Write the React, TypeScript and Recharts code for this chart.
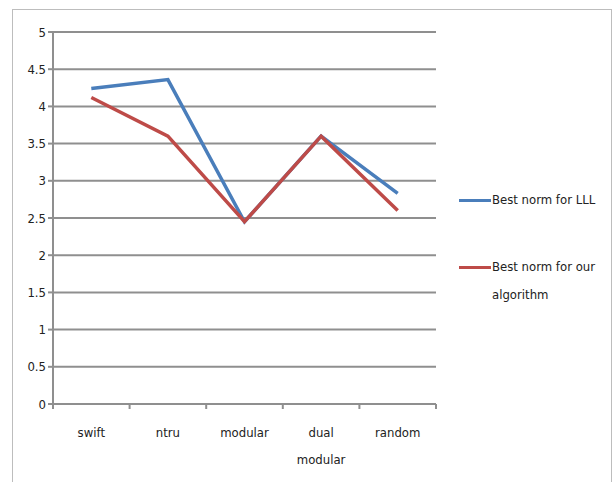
import React from 'react';
import {
  LineChart,
  Line,
  XAxis,
  YAxis,
  CartesianGrid,
} from 'recharts';

// Norm results per lattice type
const categories = ['swift', 'ntru', 'modular', 'dual modular', 'random'];
const lllNorm = [4.24, 4.36, 2.45, 3.6, 2.83];
const ourNorm = [4.12, 3.6, 2.45, 3.6, 2.6];
const yTicks = [0, 0.5, 1, 1.5, 2, 2.5, 3, 3.5, 4, 4.5, 5];

const BLUE = '#4A7EBB';
const RED = '#BE4B48';
const GRID = '#8f8f8f';
const FONT = '"DejaVu Sans Condensed", "Open Sans", sans-serif';

// each category sits in the middle of its slot on a 0..N numeric axis
const data = categories.map((name, i) => ({
  slot: i + 0.5,
  name,
  lll: lllNorm[i],
  ours: ourNorm[i],
}));
const slotCenters = data.map((d) => d.slot);
const slotEdges = [0, ...slotCenters.map((s) => s + 0.5)];

// category label, split onto separate lines at spaces
const CategoryTick = (props: any) => {
  const { x, y, index } = props;
  const words = categories[index].split(' ');
  return (
    <text x={x} y={y} textAnchor="middle" fontSize={13} fill="#222" fontFamily={FONT}>
      {words.map((w, i) => (
        <tspan key={i} x={x} dy={i === 0 ? 24 : 27}>
          {w}
        </tspan>
      ))}
    </text>
  );
};

// tick mark only, no label
const EdgeTick = () => <g />;

const legendItems = [
  { label: 'Best norm for LLL', color: BLUE },
  { label: 'Best norm for our algorithm', color: RED },
];

const NormLegend = () => (
  <div
    style={{
      position: 'absolute',
      left: 446,
      top: 176,
      fontFamily: FONT,
      fontSize: 13,
      color: '#222',
    }}
  >
    {legendItems.map((item, i) => (
      <div
        key={item.label}
        style={{ display: 'flex', alignItems: 'flex-start', marginBottom: i === 0 ? 39 : 0 }}
      >
        <div
          style={{
            width: 32,
            height: 3,
            background: item.color,
            marginTop: 13,
            marginRight: 1,
            flexShrink: 0,
          }}
        />
        <div style={{ width: 112, lineHeight: '28px' }}>{item.label}</div>
      </div>
    ))}
  </div>
);

export default function App() {
  return (
    <div
      style={{
        position: 'absolute',
        left: 12,
        top: 9,
        width: 600,
        height: 474,
        border: '1px solid #bdbdbd',
        boxSizing: 'border-box',
        background: '#fff',
      }}
    >
      <LineChart
        width={598}
        height={464}
        data={data}
        margin={{ top: 22, right: 175, left: 0, bottom: 10 }}
      >
        <CartesianGrid vertical={false} stroke={GRID} strokeWidth={2} />
        <XAxis
          xAxisId="cat"
          type="number"
          dataKey="slot"
          domain={[0, categories.length]}
          ticks={slotCenters}
          interval={0}
          axisLine={false}
          tickLine={false}
          height={59}
          tick={<CategoryTick />}
        />
        <XAxis
          xAxisId="base"
          type="number"
          dataKey="slot"
          domain={[0, categories.length]}
          ticks={slotEdges}
          interval={0}
          tick={<EdgeTick />}
          height={1}
          tickSize={5}
          axisLine={{ stroke: GRID, strokeWidth: 2 }}
          tickLine={{ stroke: GRID, strokeWidth: 2 }}
        />
        <YAxis
          width={40}
          domain={[0, 5]}
          ticks={yTicks}
          interval={0}
          tickSize={5}
          axisLine={{ stroke: GRID, strokeWidth: 2 }}
          tickLine={{ stroke: GRID, strokeWidth: 2 }}
          tick={{ fontSize: 13, fill: '#222', fontFamily: FONT }}
        />
        <Line
          xAxisId="base"
          dataKey="lll"
          stroke={BLUE}
          strokeWidth={3.5}
          dot={false}
          isAnimationActive={false}
        />
        <Line
          xAxisId="cat"
          dataKey="ours"
          stroke={RED}
          strokeWidth={3.5}
          dot={false}
          isAnimationActive={false}
        />
      </LineChart>
      <NormLegend />
    </div>
  );
}
